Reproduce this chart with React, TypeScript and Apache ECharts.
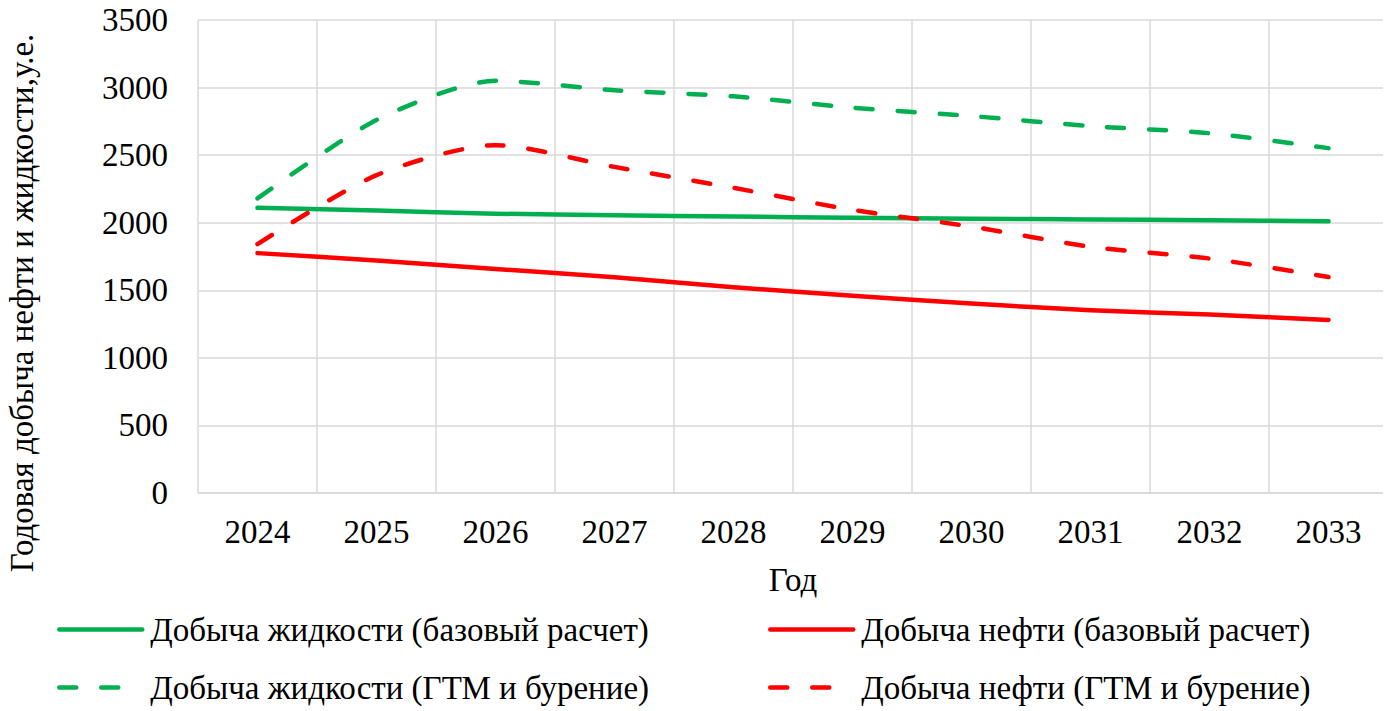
import React, { useEffect, useRef } from "react";
import * as echarts from "echarts";

const years = ["2024", "2025", "2026", "2027", "2028", "2029", "2030", "2031", "2032", "2033"];
const liquidBase = [2110, 2090, 2067, 2055, 2046, 2036, 2030, 2024, 2018, 2010];
const oilBase = [1775, 1720, 1658, 1597, 1523, 1460, 1402, 1352, 1320, 1281];
const liquidGtm = [2180, 2760, 3050, 2980, 2935, 2851, 2789, 2715, 2662, 2552];
const oilGtm = [1842, 2352, 2574, 2413, 2258, 2095, 1971, 1822, 1735, 1598];

const names = [
  "Добыча жидкости (базовый расчет)",
  "Добыча нефти (базовый расчет)",
  "Добыча жидкости (ГТМ и бурение)",
  "Добыча нефти (ГТМ и бурение)",
];
const yTitle = "Годовая добыча нефти и жидкости,у.е.";
const xTitle = "Год";

const GREEN = "#00B050";
const RED = "#FF0000";
const GRID = "#D9D9D9";
const FONT = "Liberation Serif";
const FS = 33;

export default function App() {
  const ref = useRef<HTMLDivElement>(null);
  useEffect(() => {
    if (!ref.current) return;
    const chart = echarts.init(ref.current, null, { renderer: "svg" });
    const dash = [17, 25];
    const mkSeries = (name: string, data: number[], color: string, dashed: boolean) => ({
      name,
      type: "line",
      data,
      smooth: 0.25,
      symbol: "none",
      showSymbol: false,
      lineStyle: { color, width: 4.5, type: dashed ? dash : "solid", cap: "round", join: "round" },
      itemStyle: { color },
    });
    const legendBase = {
      itemWidth: 83,
      itemHeight: 14,
      itemGap: 0,
      padding: 0,
      lineStyle: { width: 4.5 },
      itemStyle: { opacity: 0 },
      textStyle: { fontFamily: FONT, fontSize: FS, color: "#000", padding: [0, 0, 0, 3] },
      selectedMode: false,
    };
    chart.setOption({
      animation: false,
      textStyle: { fontFamily: FONT },
      grid: { left: 198, right: 3, top: 20, bottom: 218, containLabel: false },
      legend: [
        { ...legendBase, left: 57, top: 613, data: [names[0]] },
        { ...legendBase, left: 768, top: 613, data: [names[1]] },
        { ...legendBase, left: 57, top: 671, data: [names[2]] },
        { ...legendBase, left: 768, top: 671, data: [names[3]] },
      ],
      xAxis: {
        type: "category",
        data: years,
        boundaryGap: true,
        axisLine: { show: true, lineStyle: { color: GRID, width: 1.5 } },
        axisTick: { show: false },
        splitLine: { show: true, lineStyle: { color: GRID, width: 1.5 } },
        axisLabel: { fontFamily: FONT, fontSize: FS, color: "#000", margin: 22 },
        name: xTitle,
        nameLocation: "middle",
        nameGap: 70,
        nameTextStyle: { fontFamily: FONT, fontSize: FS, color: "#000" },
      },
      yAxis: {
        type: "value",
        min: 0,
        max: 3500,
        interval: 500,
        axisLine: { show: false },
        axisTick: { show: false },
        splitLine: { show: true, lineStyle: { color: GRID, width: 1.5 } },
        axisLabel: {
          fontFamily: FONT,
          fontSize: FS,
          color: "#000",
          margin: 30,
          formatter: (v: number) => String(v),
        },
      },
      graphic: [
        {
          type: "text",
          x: 22,
          y: 303,
          rotation: Math.PI / 2,
          style: {
            text: yTitle,
            fontFamily: FONT,
            fontSize: FS,
            fill: "#000",
            align: "center",
            verticalAlign: "middle",
          },
        },
      ],
      series: [
        mkSeries(names[0], liquidBase, GREEN, false),
        mkSeries(names[1], oilBase, RED, false),
        mkSeries(names[2], liquidGtm, GREEN, true),
        mkSeries(names[3], oilGtm, RED, true),
      ],
    });
    return () => chart.dispose();
  }, []);
  return (
    <div style={{ margin: "-8px 0 0 -8px", fontFamily: FONT }}>
      <div ref={ref} style={{ width: "1391px", height: "711px" }} />
    </div>
  );
}
